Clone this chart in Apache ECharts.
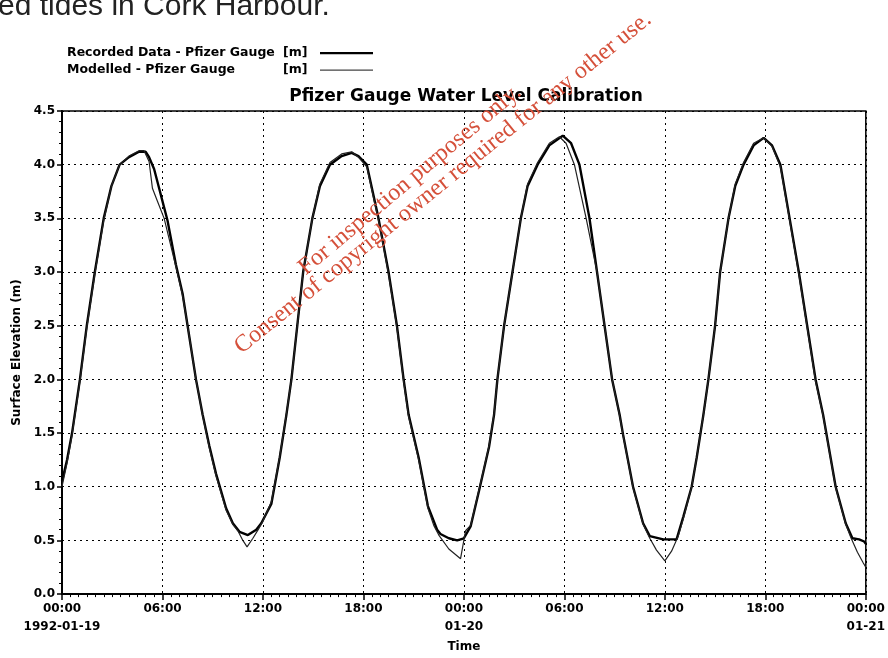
<!DOCTYPE html>
<html>
<head>
<meta charset="utf-8">
<title>Pfizer Gauge Water Level Calibration</title>
<script src="https://cdn.jsdelivr.net/npm/echarts@6/dist/echarts.min.js"></script>
<style>
  html, body { margin: 0; padding: 0; background: #fff; }
  #chart { width: 888px; height: 658px; }
</style>
</head>
<body>
<div id="chart"></div>
<script>
// hours since 1992-01-19 00:00
const recordedHours = [0, 0.3, 0.6, 1.07, 1.48, 1.96, 2.49, 2.95, 3.44, 4.0, 4.6, 5.0, 5.2, 5.5, 5.8, 6.1, 6.3, 6.8, 7.2, 7.5, 8.0, 8.4, 8.8, 9.2, 9.8, 10.2, 10.6, 11.1, 11.6, 11.9,
  12.5, 13.0, 13.4, 13.7, 14.05, 14.4, 14.95, 15.4, 16.0, 16.7, 17.3, 17.7, 18.2, 18.9, 19.5, 20.0, 20.4, 20.7, 21.3, 21.85, 22.4, 22.6, 23.1, 23.6, 24.0,
  24.4, 24.9, 25.5, 25.8, 26.0, 26.4, 26.9, 27.4, 27.8, 28.4, 29.1, 29.9, 30.4, 30.9, 31.5, 31.95, 32.4, 32.85, 33.3, 33.5, 34.1, 34.7, 35.1, 35.9, 36.7,
  37.1, 37.6, 37.9, 38.3, 38.6, 39.0, 39.3, 39.8, 40.2, 40.7, 41.3, 41.9, 42.4, 42.9, 43.45, 44.0, 44.5, 45.0, 45.45, 46.2, 46.8, 47.2, 47.6, 47.9, 48.0];
const recordedLevel = [1.05, 1.25, 1.5, 2.0, 2.5, 3.0, 3.5, 3.8, 4.0, 4.07, 4.12, 4.12, 4.07, 3.96, 3.78, 3.6, 3.48, 3.07, 2.8, 2.5, 2.0, 1.67, 1.38, 1.12, 0.8, 0.66, 0.58, 0.55, 0.6, 0.66,
  0.84, 1.27, 1.67, 2.0, 2.5, 3.0, 3.5, 3.8, 4.0, 4.08, 4.11, 4.08, 4.0, 3.5, 3.0, 2.5, 2.0, 1.67, 1.27, 0.82, 0.6, 0.56, 0.52, 0.5, 0.52,
  0.63, 0.96, 1.37, 1.67, 2.0, 2.5, 3.0, 3.5, 3.8, 4.0, 4.18, 4.27, 4.2, 4.0, 3.5, 3.0, 2.5, 2.0, 1.67, 1.49, 1.0, 0.66, 0.54, 0.51, 0.51,
  0.72, 1.0, 1.27, 1.67, 2.0, 2.5, 3.0, 3.5, 3.8, 4.0, 4.18, 4.25, 4.18, 4.0, 3.5, 3.0, 2.5, 2.0, 1.67, 1.0, 0.66, 0.52, 0.51, 0.49, 0.47];

const modelledHours = [0, 0.3, 0.6, 1.07, 1.48, 1.96, 2.49, 2.95, 3.44, 4.0, 4.6, 4.9, 5.2, 5.4, 5.7, 6.1, 6.8, 7.2, 7.5, 8.0, 8.4, 8.8, 9.2, 9.8, 10.2, 10.5, 10.8, 11.05, 11.4, 11.75, 12.0,
  12.5, 13.0, 13.4, 13.7, 14.05, 14.4, 14.95, 15.4, 16.0, 16.7, 17.3, 17.7, 18.2, 18.9, 19.5, 20.0, 20.4, 20.7, 21.3, 21.85, 22.2, 22.5, 23.1, 23.8, 24.1,
  24.4, 24.9, 25.5, 25.8, 26.0, 26.4, 26.9, 27.4, 27.8, 28.4, 29.1, 29.7, 30.1, 30.6, 31.3, 31.95, 32.4, 32.85, 33.3, 33.5, 34.1, 34.7, 35.1, 35.5, 36.0, 36.4, 36.8,
  37.1, 37.6, 37.9, 38.3, 38.6, 39.0, 39.3, 39.8, 40.2, 40.7, 41.3, 41.9, 42.4, 42.9, 43.45, 44.0, 44.5, 45.0, 45.45, 46.2, 46.8, 47.1, 47.5, 47.85, 48.0];
const modelledLevel = [1.0, 1.22, 1.48, 1.98, 2.48, 2.98, 3.48, 3.8, 4.0, 4.08, 4.13, 4.13, 4.03, 3.78, 3.66, 3.5, 3.05, 2.78, 2.5, 2.0, 1.66, 1.36, 1.1, 0.78, 0.65, 0.59, 0.5, 0.44, 0.52, 0.61, 0.68,
  0.86, 1.28, 1.68, 2.0, 2.5, 3.0, 3.5, 3.82, 4.02, 4.1, 4.12, 4.07, 3.98, 3.48, 2.98, 2.48, 1.98, 1.65, 1.25, 0.8, 0.64, 0.55, 0.42, 0.33, 0.59,
  0.64, 0.97, 1.38, 1.68, 2.0, 2.5, 3.0, 3.5, 3.82, 4.02, 4.2, 4.26, 4.2, 4.0, 3.5, 3.0, 2.5, 2.0, 1.66, 1.48, 0.99, 0.65, 0.52, 0.41, 0.31, 0.4, 0.54,
  0.7, 1.0, 1.27, 1.67, 2.0, 2.5, 3.0, 3.5, 3.82, 4.02, 4.2, 4.25, 4.17, 3.98, 3.48, 2.98, 2.48, 1.98, 1.66, 0.99, 0.65, 0.53, 0.39, 0.29, 0.25];

const timeLabels = ['00:00\n1992-01-19', '06:00', '12:00', '18:00', '00:00\n01-20', '06:00', '12:00', '18:00', '00:00\n01-21'];

const pairs = (xs, ys) => xs.map((x, i) => [x, ys[i]]);

const chart = echarts.init(document.getElementById('chart'), null, { renderer: 'canvas' });

const option = {
  backgroundColor: '#fff',
  animation: false,
  title: {
    text: 'Pfizer Gauge Water Level Calibration',
    left: 466,
    textAlign: 'center',
    top: 88,
    padding: 0,
    textStyle: { fontFamily: 'DejaVu Sans', fontWeight: 'bold', fontSize: 17, color: '#000' }
  },
  legend: {
    orient: 'vertical',
    left: 67,
    top: 46,
    align: 'right',
    itemWidth: 53,
    itemHeight: 14,
    itemGap: 3,
    padding: 0,
    symbolKeepAspect: false,
    data: [
      { name: 'Recorded', icon: 'path://M0,6H100V8.4H0Z M0,0H0.1V0.1H0Z M0,14H0.1V14.1H0Z' },
      { name: 'Modelled', icon: 'path://M0,6.6H100V7.8H0Z M0,0H0.1V0.1H0Z M0,14H0.1V14.1H0Z' }
    ],
    formatter: function (name) {
      if (name === 'Recorded') return '{a|Recorded Data - Pfizer Gauge}{b|[m]}';
      return '{a|Modelled - Pfizer Gauge}{b|[m]}';
    },
    textStyle: {
      color: '#000',
      rich: {
        a: { width: 216, align: 'left', fontFamily: 'DejaVu Sans', fontWeight: 'bold', fontSize: 12.5, color: '#000' },
        b: { width: 32, align: 'left', fontFamily: 'DejaVu Sans', fontWeight: 'bold', fontSize: 12.5, color: '#000' }
      }
    }
  },
  grid: {
    left: 62,
    right: 18,
    top: 111,
    bottom: 55,
    show: true,
    borderColor: '#000',
    borderWidth: 1.5
  },
  xAxis: {
    type: 'value',
    min: 0,
    max: 48,
    interval: 6,
    name: 'Time',
    nameLocation: 'middle',
    nameGap: 41,
    nameTextStyle: { fontFamily: 'DejaVu Sans', fontWeight: 'bold', fontSize: 12, color: '#000' },
    axisLine: { lineStyle: { color: '#000', width: 2 } },
    axisTick: { length: 6, lineStyle: { color: '#000', width: 1.5 } },
    minorTick: { show: true, splitNumber: 12, length: 3, lineStyle: { color: '#000', width: 1 } },
    axisLabel: {
      margin: 6,
      fontFamily: 'DejaVu Sans',
      fontWeight: 'bold',
      fontSize: 12,
      lineHeight: 18,
      color: '#000',
      formatter: function (v) { return timeLabels[Math.round(v / 6)]; }
    },
    splitLine: { show: true, lineStyle: { color: '#000', type: [2, 4], width: 1 } }
  },
  yAxis: {
    type: 'value',
    min: 0,
    max: 4.5,
    interval: 0.5,
    name: 'Surface Elevation (m)',
    nameLocation: 'middle',
    nameGap: 39,
    nameTextStyle: { fontFamily: 'DejaVu Sans', fontWeight: 'bold', fontSize: 12, color: '#000' },
    axisLine: { show: true, lineStyle: { color: '#000', width: 2 } },
    axisTick: { show: true, length: 5, lineStyle: { color: '#000', width: 1.5 } },
    minorTick: { show: true, splitNumber: 5, length: 3, lineStyle: { color: '#000', width: 1 } },
    axisLabel: {
      margin: 7,
      fontFamily: 'DejaVu Sans',
      fontWeight: 'bold',
      fontSize: 12,
      color: '#000',
      formatter: function (v) { return v.toFixed(1); }
    },
    splitLine: { show: true, lineStyle: { color: '#000', type: [2, 4], width: 1 } }
  },
  series: [
    {
      name: 'Recorded',
      type: 'line',
      data: pairs(recordedHours, recordedLevel),
      showSymbol: false,
      symbol: 'none',
      lineStyle: { color: '#000', width: 2.4 },
      itemStyle: { color: '#000' },
      z: 2
    },
    {
      name: 'Modelled',
      type: 'line',
      data: pairs(modelledHours, modelledLevel),
      showSymbol: false,
      symbol: 'none',
      lineStyle: { color: '#222', width: 1.2 },
      itemStyle: { color: '#444' },
      z: 3
    }
  ],
  graphic: [
    {
      type: 'text',
      left: -2,
      top: -8,
      style: { text: 'ed tides in Cork Harbour.', font: '30px "Liberation Sans", Arial, sans-serif', fill: '#222' }
    },
    {
      type: 'text',
      x: 410,
      y: 180,
      rotation: 40 * Math.PI / 180,
      z: 100,
      style: {
        text: 'For inspection purposes only.',
        font: '24px "Liberation Serif", "Times New Roman", serif',
        fill: '#d5503a',
        align: 'center',
        verticalAlign: 'middle'
      }
    },
    {
      type: 'text',
      x: 443,
      y: 183,
      rotation: 39 * Math.PI / 180,
      z: 100,
      style: {
        text: 'Consent of copyright owner required for any other use.',
        font: '24px "Liberation Serif", "Times New Roman", serif',
        fill: '#d5503a',
        align: 'center',
        verticalAlign: 'middle'
      }
    }
  ]
};

chart.setOption(option);
window.addEventListener('resize', function () {
  chart.resize();
});
</script>
</body>
</html>
